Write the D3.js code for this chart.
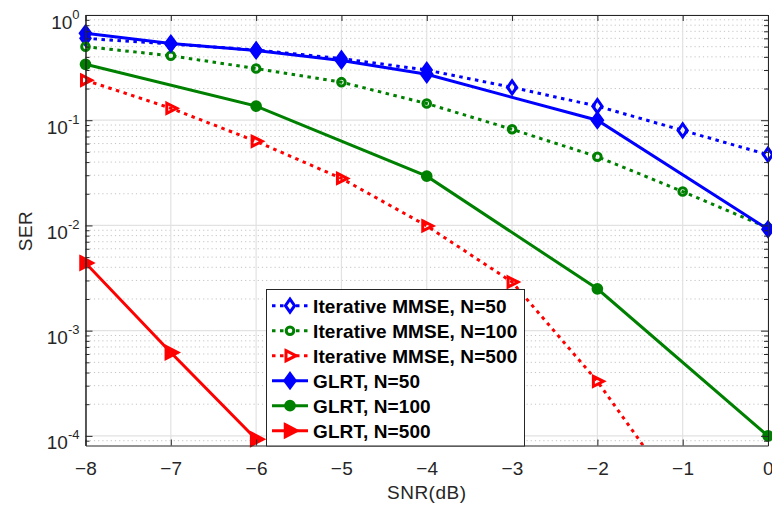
<!DOCTYPE html>
<html>
<head>
<meta charset="utf-8">
<script src="https://cdn.jsdelivr.net/npm/d3@7"></script>
<style>
body { margin: 0; background: #fff; }
text { font-family: Arial, "Liberation Sans", Helvetica, sans-serif; }
</style>
</head>
<body>
<svg id="chart"></svg>
<script>
// SER vs SNR values
const snr = [-8, -7, -6, -5, -4, -3, -2, -1, 0];
const mmse50 = [0.60, 0.53, 0.465, 0.385, 0.30, 0.205, 0.136, 0.080, 0.047];
const mmse100 = [0.50, 0.41, 0.31, 0.23, 0.144, 0.082, 0.045, 0.021, 0.0095];
const mmse500 = [0.24, 0.13, 0.063, 0.028, 0.0099, 0.0029, 0.00033, 0.000024]; // last one falls below the axis
const glrtSnr50 = [-8, -7, -6, -5, -4, -2, 0];
const glrt50 = [0.67, 0.535, 0.46, 0.37, 0.273, 0.10, 0.0092];
const glrtSnr100 = [-8, -6, -4, -2, 0];
const glrt100 = [0.34, 0.136, 0.0294, 0.0025, 0.0001];
const glrtSnr500 = [-8, -7, -6];
const glrt500 = [0.0044, 0.00062, 0.000093];

const xTicks = [-8, -7, -6, -5, -4, -3, -2, -1, 0];
const yExponents = [-4, -3, -2, -1, 0];
const legendNames = [
    "Iterative MMSE, N=50",
    "Iterative MMSE, N=100",
    "Iterative MMSE, N=500",
    "GLRT, N=50",
    "GLRT, N=100",
    "GLRT, N=500"
];

const width = 772;
const height = 510;
const margin = { top: 15, right: 4, bottom: 64.5, left: 85.5 };
const innerW = width - margin.left - margin.right;
const innerH = height - margin.top - margin.bottom;
const axisColor = "#262626";

const svg = d3.select("#chart")
    .attr("width", width)
    .attr("height", height);

const g = svg.append("g")
    .attr("transform", `translate(${margin.left}, ${margin.top})`);

const x = d3.scaleLinear()
    .domain([-8, 0])
    .range([0, innerW]);

const y = d3.scaleLog()
    .domain([8.1e-5, 1])
    .range([innerH, 0]);

const yTicks = yExponents.map(e => Math.pow(10, e));
const yMinor = [];
yExponents.concat([-5]).forEach(e => {
    for (let k = 2; k <= 9; k++) {
        const v = k * Math.pow(10, e);
        if (v >= y.domain()[0] && v <= 1) yMinor.push(v);
    }
});

// grid
g.append("g").selectAll("line")
    .data(yMinor)
    .enter()
    .append("line")
    .attr("x1", 0).attr("x2", innerW)
    .attr("y1", d => y(d)).attr("y2", d => y(d))
    .attr("stroke", "#c4c4c4")
    .attr("stroke-width", 1)
    .attr("stroke-dasharray", "1.2,3");

g.append("g").selectAll("line")
    .data(yTicks)
    .enter()
    .append("line")
    .attr("x1", 0).attr("x2", innerW)
    .attr("y1", d => y(d)).attr("y2", d => y(d))
    .attr("stroke", "#e2e2e2")
    .attr("stroke-width", 1.2);

g.append("g").selectAll("line")
    .data(xTicks)
    .enter()
    .append("line")
    .attr("x1", d => x(d)).attr("x2", d => x(d))
    .attr("y1", 0).attr("y2", innerH)
    .attr("stroke", "#e2e2e2")
    .attr("stroke-width", 1.2);

// series
const series = [
    { xs: snr, ys: mmse50, color: "#0000ff", dotted: true, marker: "diamond", filled: false },
    { xs: snr, ys: mmse100, color: "#008000", dotted: true, marker: "circle", filled: false },
    { xs: snr, ys: mmse500, color: "#ff0000", dotted: true, marker: "triangle", filled: false },
    { xs: glrtSnr50, ys: glrt50, color: "#0000ff", dotted: false, marker: "diamond", filled: true },
    { xs: glrtSnr100, ys: glrt100, color: "#008000", dotted: false, marker: "circle", filled: true },
    { xs: glrtSnr500, ys: glrt500, color: "#ff0000", dotted: false, marker: "triangle", filled: true }
];

function markerPath(type, open) {
    if (type === "diamond") return open ? "M0,-6.5L4.6,0L0,6.5L-4.6,0Z" : "M0,-7.5L5.5,0L0,7.5L-5.5,0Z";
    if (type === "triangle") return open ? "M-4,-5L6,0L-4,5Z" : "M-5,-6.5L7.5,0L-5,6.5Z";
    return d3.arc()({ innerRadius: 0, outerRadius: open ? 3.8 : 4.6, startAngle: 0, endAngle: 2 * Math.PI });
}

svg.append("clipPath")
    .attr("id", "plotClip")
    .append("rect")
    .attr("width", innerW)
    .attr("height", innerH);

const line = d3.line()
    .x(d => x(d[0]))
    .y(d => y(d[1]));

const plot = g.append("g");

series.forEach(s => {
    const pts = s.xs.map((v, i) => [v, s.ys[i]]);
    plot.append("path")
        .datum(pts)
        .attr("clip-path", "url(#plotClip)")
        .attr("fill", "none")
        .attr("stroke", s.color)
        .attr("stroke-width", 3)
        .attr("stroke-dasharray", s.dotted ? "3.5,4.5" : null)
        .attr("d", line);

    plot.selectAll(null)
        .data(pts.filter(p => p[1] >= y.domain()[0]))
        .enter()
        .append("path")
        .attr("transform", p => `translate(${x(p[0])},${y(p[1])})`)
        .attr("d", markerPath(s.marker, !s.filled))
        .attr("fill", s.filled ? s.color : "none")
        .attr("stroke", s.color)
        .attr("stroke-width", s.filled ? 2.5 : 3);
});

// axes (ticks point inward, MATLAB style box)
const xAxisB = g.append("g")
    .attr("transform", `translate(0, ${innerH})`)
    .call(d3.axisBottom(x).tickValues(xTicks).tickSizeInner(-6).tickSizeOuter(0).tickPadding(16).tickFormat(d3.format("d")));
const xAxisT = g.append("g")
    .call(d3.axisTop(x).tickValues(xTicks).tickSizeInner(-6).tickSizeOuter(0).tickFormat(""));
const yAxisL = g.append("g")
    .call(d3.axisLeft(y).tickValues(yTicks).tickSizeInner(-7).tickSizeOuter(0).tickFormat(""));
const yAxisR = g.append("g")
    .attr("transform", `translate(${innerW}, 0)`)
    .call(d3.axisRight(y).tickValues(yTicks).tickSizeInner(-7).tickSizeOuter(0).tickFormat(""));
const yMinorL = g.append("g")
    .call(d3.axisLeft(y).tickValues(yMinor).tickSizeInner(-4).tickSizeOuter(0).tickFormat(""));
const yMinorR = g.append("g")
    .attr("transform", `translate(${innerW}, 0)`)
    .call(d3.axisRight(y).tickValues(yMinor).tickSizeInner(-4).tickSizeOuter(0).tickFormat(""));

[xAxisB, xAxisT, yAxisL, yAxisR, yMinorL, yMinorR].forEach(a => {
    a.selectAll("path, line").attr("stroke", axisColor).attr("stroke-width", 1);
});

xAxisB.selectAll("text")
    .attr("fill", axisColor)
    .style("font-size", "19px")
    .style("letter-spacing", "0.3px");

// log tick labels as 10^n
yAxisL.selectAll(".tick text").remove();
yAxisL.selectAll(".tick")
    .append("text")
    .attr("x", -6)
    .attr("y", 13)
    .attr("text-anchor", "end")
    .attr("fill", axisColor)
    .style("font-size", "19px")
    .each(function(d) {
        const t = d3.select(this);
        t.append("tspan").text("10");
        t.append("tspan")
            .attr("dy", -10)
            .style("font-size", "13px")
            .text(Math.round(Math.log10(d)));
    });

// axis titles
svg.append("text")
    .attr("x", margin.left + innerW / 2)
    .attr("y", 499)
    .attr("text-anchor", "middle")
    .attr("fill", axisColor)
    .style("font-size", "19px")
    .style("letter-spacing", "0.5px")
    .text("SNR(dB)");

svg.append("text")
    .attr("transform", "translate(32, 231) rotate(-90)")
    .attr("text-anchor", "middle")
    .attr("fill", axisColor)
    .style("font-size", "19px")
    .style("letter-spacing", "0.5px")
    .text("SER");

// legend
const legend = svg.append("g");
legend.append("rect")
    .attr("x", 266.5)
    .attr("y", 289.5)
    .attr("width", 258)
    .attr("height", 156.5)
    .attr("fill", "#fff")
    .attr("stroke", axisColor)
    .attr("stroke-width", 1);

const rows = legend.selectAll(".row")
    .data(series)
    .enter()
    .append("g")
    .attr("class", "row")
    .attr("transform", (d, i) => `translate(0, ${305.7 + i * 25})`);

rows.append("line")
    .attr("x1", 272).attr("x2", 308)
    .attr("stroke", d => d.color)
    .attr("stroke-width", 3)
    .attr("stroke-dasharray", d => d.dotted ? "3.5,4.5" : null);

rows.append("path")
    .attr("transform", "translate(290,0)")
    .attr("d", d => markerPath(d.marker, !d.filled))
    .attr("fill", d => d.filled ? d.color : "#fff")
    .attr("stroke", d => d.color)
    .attr("stroke-width", d => d.filled ? 2.5 : 3);

rows.append("text")
    .attr("x", 313)
    .attr("y", 7)
    .attr("fill", "#000")
    .style("font-size", "19px")
    .style("font-weight", "bold")
    .style("letter-spacing", "0.1px")
    .text((d, i) => legendNames[i]);
</script>
</body>
</html>
